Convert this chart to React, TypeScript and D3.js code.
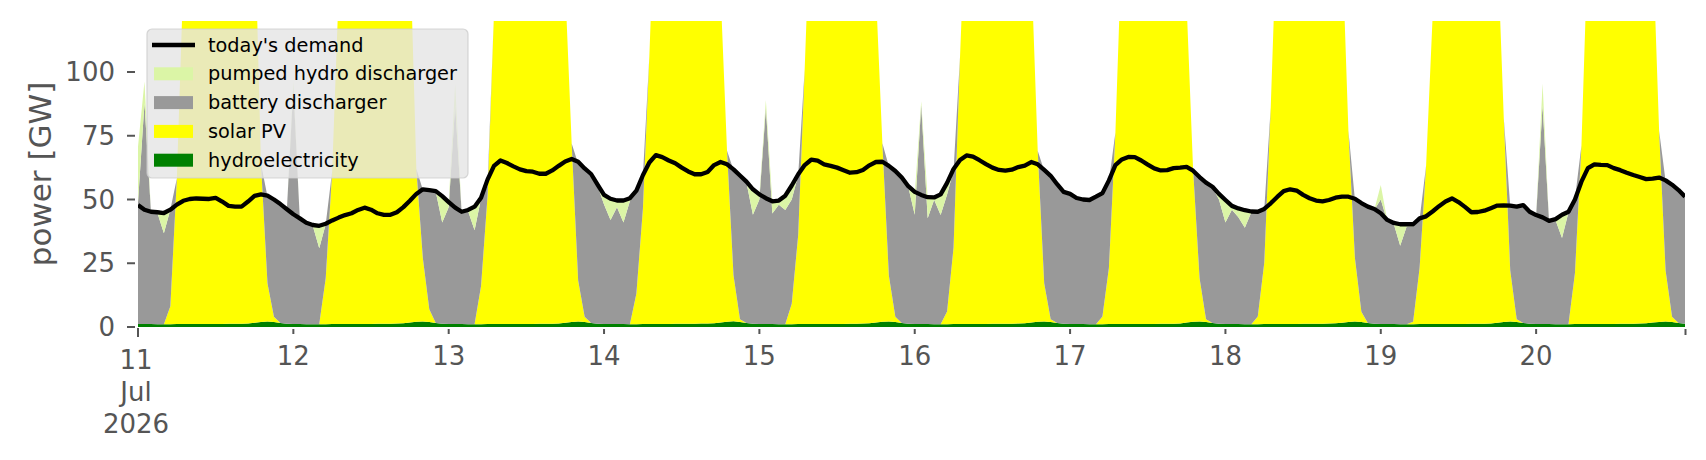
import * as d3 from "d3"

type Row = {
  time: Date
  hydro: number
  solar: number
  battery: number
  pumped: number
  demand: number
}

const WIDTH = 1706
const HEIGHT = 460
const PLOT_LEFT = 138
const PLOT_RIGHT = 1685
const PLOT_TOP = 21
const PLOT_BOTTOM = 327
const FONT = "DejaVu Sans, Verdana, sans-serif"
const TICK_COLOR = "#555555"

const START = new Date(2026, 6, 11, 0)

// hourly values, 11 Jul 00:00 .. 20 Jul 23:00 (GW)
const demand = [
  47.8, 46.0, 45.2, 45.0, 44.7, 46.0, 48.0, 49.5, 50.2, 50.4, 50.3, 50.2, 50.6, 49.2, 47.5, 47.2, 47.2, 49.2, 51.4, 52.0, 51.5, 50.0, 48.2, 46.2,
  44.2, 42.6, 40.9, 40.0, 39.7, 40.5, 41.8, 42.9, 43.9, 44.6, 45.9, 46.8, 46.0, 44.6, 44.0, 44.0, 45.0, 47.0, 49.5, 52.2, 54.0, 53.7, 53.3, 51.3,
  49.0, 46.8, 45.2, 45.9, 47.2, 50.7, 57.8, 63.2, 65.3, 64.3, 63.0, 61.8, 61.1, 60.9, 60.1, 60.1, 61.4, 63.2, 64.9, 65.9, 64.8, 62.2, 60.0, 55.8,
  51.8, 50.3, 49.6, 49.6, 50.5, 53.5, 59.5, 64.5, 67.4, 66.6, 65.3, 64.2, 62.5, 61.0, 59.9, 59.9, 60.8, 63.5, 64.7, 63.8, 61.8, 59.4, 57.0, 54.0,
  52.0, 50.5, 49.3, 49.6, 51.5, 55.5, 59.9, 63.5, 65.6, 65.2, 63.8, 63.2, 62.5, 61.5, 60.5, 60.7, 61.6, 63.4, 64.7, 64.8, 63.2, 61.2, 58.6, 55.2,
  53.0, 51.8, 50.9, 50.8, 52.0, 56.5, 62.0, 65.5, 67.3, 66.8, 65.4, 63.9, 62.5, 61.6, 61.3, 61.7, 62.7, 63.3, 64.7, 63.8, 61.6, 59.3, 56.0, 53.0,
  52.2, 50.6, 50.0, 49.8, 51.1, 52.5, 57.5, 63.5, 65.7, 66.7, 66.6, 65.3, 63.7, 62.2, 61.4, 61.5, 62.3, 62.5, 62.8, 61.3, 58.8, 56.6, 55.0, 52.2,
  49.8, 47.5, 46.5, 45.8, 45.3, 45.2, 46.3, 48.5, 51.0, 53.3, 54.0, 53.5, 51.8, 50.5, 49.6, 49.3, 49.8, 50.7, 51.1, 51.1, 50.3, 48.6, 47.2, 46.3,
  44.6, 42.0, 40.8, 40.3, 40.3, 40.3, 42.6, 43.4, 45.3, 47.4, 49.2, 50.4, 49.0, 47.1, 45.0, 45.1, 45.6, 46.6, 47.6, 47.7, 47.6, 47.2, 47.8, 45.2,
  43.9, 43.0, 41.6, 42.3, 44.0, 45.2, 50.0, 57.0, 62.3, 63.8, 63.6, 63.5, 62.3, 61.5, 60.5, 59.6, 58.8, 58.0, 58.2, 58.6, 57.5, 55.8, 53.7, 51.1,
]

const hydro = [
  1.2, 1.2, 1.2, 1.1, 1.1, 1.1, 1.2, 1.2, 1.2, 1.2, 1.2, 1.2, 1.2, 1.2, 1.3, 1.3, 1.3, 1.4, 1.7, 2.0, 2.2, 2.0, 1.6, 1.3,
  1.2, 1.2, 1.1, 1.1, 1.1, 1.1, 1.2, 1.2, 1.2, 1.2, 1.2, 1.2, 1.2, 1.3, 1.3, 1.3, 1.4, 1.5, 1.8, 2.1, 2.2, 2.0, 1.6, 1.3,
  1.2, 1.2, 1.2, 1.1, 1.1, 1.1, 1.2, 1.2, 1.2, 1.2, 1.2, 1.2, 1.2, 1.2, 1.3, 1.3, 1.3, 1.4, 1.7, 2.0, 2.2, 2.0, 1.6, 1.3,
  1.2, 1.2, 1.2, 1.2, 1.1, 1.1, 1.2, 1.2, 1.2, 1.2, 1.2, 1.3, 1.3, 1.3, 1.3, 1.4, 1.4, 1.5, 1.8, 2.1, 2.3, 2.0, 1.6, 1.3,
  1.2, 1.2, 1.2, 1.1, 1.1, 1.1, 1.2, 1.2, 1.2, 1.2, 1.2, 1.2, 1.2, 1.2, 1.3, 1.3, 1.4, 1.5, 1.8, 2.1, 2.2, 2.0, 1.6, 1.3,
  1.2, 1.2, 1.2, 1.1, 1.1, 1.1, 1.2, 1.2, 1.2, 1.2, 1.2, 1.2, 1.3, 1.3, 1.3, 1.3, 1.4, 1.5, 1.8, 2.1, 2.2, 2.0, 1.6, 1.3,
  1.2, 1.2, 1.2, 1.1, 1.1, 1.1, 1.2, 1.2, 1.2, 1.2, 1.2, 1.2, 1.2, 1.2, 1.3, 1.3, 1.3, 1.4, 1.8, 2.1, 2.2, 2.0, 1.6, 1.3,
  1.2, 1.2, 1.2, 1.1, 1.1, 1.1, 1.2, 1.2, 1.2, 1.2, 1.2, 1.2, 1.3, 1.3, 1.3, 1.3, 1.4, 1.5, 1.7, 2.0, 2.2, 2.0, 1.6, 1.3,
  1.2, 1.2, 1.2, 1.1, 1.1, 1.1, 1.2, 1.2, 1.2, 1.2, 1.2, 1.2, 1.2, 1.2, 1.3, 1.3, 1.3, 1.4, 1.7, 2.0, 2.2, 2.0, 1.6, 1.3,
  1.2, 1.2, 1.2, 1.1, 1.1, 1.1, 1.2, 1.2, 1.2, 1.2, 1.2, 1.2, 1.2, 1.3, 1.3, 1.3, 1.4, 1.5, 1.8, 2.0, 2.2, 2.0, 1.6, 1.3,
]

const solar = [
  0, 0, 0, 0, 0, 7, 57, 135, 180, 215, 235, 245, 245, 235, 220, 200, 185, 170, 160, 62, 15, 2, 0, 0,
  0, 0, 0, 0, 0, 18, 60, 130, 175, 205, 225, 235, 238, 232, 220, 205, 190, 170, 150, 60, 25, 5, 0, 0,
  0, 0, 0, 0, 0, 15, 50, 122, 185, 215, 235, 245, 248, 240, 228, 210, 190, 165, 132, 70, 16, 2, 0, 0,
  0, 0, 0, 0, 0, 12, 45, 105, 175, 210, 230, 240, 242, 235, 222, 205, 185, 160, 130, 67, 18, 1, 0, 0,
  0, 0, 0, 0, 0, 8, 35, 100, 170, 205, 228, 238, 240, 233, 220, 200, 180, 155, 130, 70, 18, 2, 0, 0,
  0, 0, 0, 0, 0, 5, 30, 105, 170, 205, 225, 235, 238, 232, 220, 200, 180, 160, 140, 67, 15, 1, 0, 0,
  0, 0, 0, 0, 0, 3, 22, 75, 150, 195, 220, 230, 232, 228, 215, 195, 170, 145, 125, 60, 17, 1, 0, 0,
  0, 0, 0, 0, 0, 3, 24, 85, 160, 200, 222, 232, 235, 230, 218, 200, 180, 165, 150, 75, 25, 4, 0, 0,
  0, 0, 0, 0, 0, 1, 22, 62, 120, 175, 210, 228, 235, 230, 218, 200, 180, 165, 150, 80, 20, 1, 0, 0,
  0, 0, 0, 0, 0, 0, 20, 70, 150, 200, 225, 238, 240, 235, 222, 205, 185, 165, 150, 75, 20, 2, 0, 0,
]

const battery = [
  47.5, 86.6, 44.0, 43.6, 35.7, 38.0, 0, 0, 0, 0, 0, 0, 0, 0, 0, 0, 0, 0, 0, 0, 34.0, 45.8, 46.4, 44.7,
  92.8, 41.2, 39.5, 38.6, 29.8, 21.2, 0, 0, 0, 0, 0, 0, 0, 0, 0, 0, 0, 0, 0, 0, 26.6, 46.5, 51.4, 39.7,
  45.8, 85.8, 43.8, 44.3, 36.8, 34.3, 4.0, 0, 0, 0, 0, 0, 0, 0, 0, 0, 0, 0, 0, 0, 45.8, 57.8, 58.0, 54.1,
  46.8, 40.8, 45.8, 39.8, 48.3, 40.1, 12.8, 0, 0, 0, 0, 0, 0, 0, 0, 0, 0, 0, 0, 0, 41.3, 56.0, 55.1, 42.7,
  48.8, 84.8, 43.3, 46.8, 44.8, 40.9, 23.4, 0, 0, 0, 0, 0, 0, 0, 0, 0, 0, 0, 0, 0, 42.8, 57.0, 56.8, 53.7,
  42.8, 85.8, 41.4, 48.8, 42.8, 45.9, 30.3, 0, 0, 0, 0, 0, 0, 0, 0, 0, 0, 0, 0, 0, 44.1, 56.0, 54.1, 51.2,
  50.3, 48.8, 48.5, 48.3, 49.6, 48.1, 34.0, 0, 0, 0, 0, 0, 0, 0, 0, 0, 0, 0, 0, 0, 39.3, 53.3, 53.1, 48.7,
  39.8, 44.8, 41.8, 37.8, 43.9, 40.9, 20.8, 0, 0, 0, 0, 0, 0, 0, 0, 0, 0, 0, 0, 0, 22.8, 42.3, 45.4, 44.7,
  48.8, 40.3, 39.3, 30.8, 38.3, 37.4, 19.1, 0, 0, 0, 0, 0, 0, 0, 0, 0, 0, 0, 0, 0, 25.1, 44.0, 45.9, 43.7,
  42.4, 85.8, 40.1, 40.8, 33.8, 43.9, 29.1, 0, 0, 0, 0, 0, 0, 0, 0, 0, 0, 0, 0, 0, 35.1, 51.5, 51.8, 49.5,
]

const pumped = [
  22.0, 8.5, 0, 0, 8.0, 0, 0, 0, 0, 0, 0, 0, 0, 0, 0, 0, 0, 0, 0, 0, 0, 0, 0, 0,
  2.2, 0, 0, 0, 8.5, 0, 0, 0, 0, 0, 0, 0, 0, 0, 0, 0, 0, 0, 0, 0, 0, 0, 0, 10.0,
  1.5, 8.5, 0, 0, 9.0, 0, 0, 0, 0, 0, 0, 0, 0, 0, 0, 0, 0, 0, 0, 0, 0, 0, 0, 0,
  3.5, 8.0, 2.3, 8.3, 0.7, 0, 0, 0, 0, 0, 0, 0, 0, 0, 0, 0, 0, 0, 0, 0, 0, 0, 0, 9.0,
  1.7, 3.0, 4.5, 1.4, 5.2, 5.2, 0, 0, 0, 0, 0, 0, 0, 0, 0, 0, 0, 0, 0, 0, 0, 0, 0, 0,
  8.0, 1.5, 7.9, 0.6, 7.7, 4.0, 0, 0, 0, 0, 0, 0, 0, 0, 0, 0, 0, 0, 0, 0, 0, 0, 0, 0.3,
  0.5, 0.3, 0, 0, 0, 0, 0, 0, 0, 0, 0, 0, 0, 0, 0, 0, 0, 0, 0, 0, 0, 0, 0, 2.0,
  8.3, 1.1, 3.2, 6.5, 0, 0, 0, 0, 0, 0, 0, 0, 0, 0, 0, 0, 0, 0, 0, 0, 0, 0, 0, 0,
  5.7, 0.3, 0, 8.0, 0.5, 0.5, 0, 0, 0, 0, 0, 0, 0, 0, 0, 0, 0, 0, 0, 0, 0, 0, 0, 0,
  0.2, 8.5, 0, 0, 8.8, 0, 0, 0, 0, 0, 0, 0, 0, 0, 0, 0, 0, 0, 0, 0, 0, 0, 0, 0,
]

const dayTicks = [11, 12, 13, 14, 15, 16, 17, 18, 19, 20]
const yTicks = [0, 25, 50, 75, 100]

const stackKeys = ["hydro", "solar", "battery", "pumped"] as const
const stackColors: Record<string, string> = {
  hydro: "#008000",
  solar: "#ffff00",
  battery: "#999999",
  pumped: "#dbf5a6",
}

const legendItems = [
  { label: "today's demand", color: "#000000", line: true },
  { label: "pumped hydro discharger", color: stackColors.pumped, line: false },
  { label: "battery discharger", color: stackColors.battery, line: false },
  { label: "solar PV", color: stackColors.solar, line: false },
  { label: "hydroelectricity", color: stackColors.hydro, line: false },
]

const rows: Row[] = demand.map((value, i) => ({
  time: d3.timeHour.offset(START, i),
  hydro: hydro[i],
  solar: solar[i],
  battery: battery[i],
  pumped: pumped[i],
  demand: value,
}))

export default function App() {
  const x = d3
    .scaleTime()
    .domain([rows[0].time, rows[rows.length - 1].time])
    .range([PLOT_LEFT, PLOT_RIGHT])
  const y = d3.scaleLinear().domain([0, 120]).range([PLOT_BOTTOM, PLOT_TOP])

  const stacked = d3.stack<Row>().keys(stackKeys as unknown as string[])(rows)

  const area = d3
    .area<d3.SeriesPoint<Row>>()
    .x((d) => x(d.data.time))
    .y0((d) => y(d[0]))
    .y1((d) => y(d[1]))

  const demandLine = d3
    .line<Row>()
    .x((d) => x(d.time))
    .y((d) => y(d.demand))

  const tickDates = dayTicks.map((day) => new Date(2026, 6, day))

  return (
    <svg
      width={WIDTH}
      height={HEIGHT}
      style={{ position: "absolute", left: 0, top: 0, background: "white" }}
      fontFamily={FONT}
    >
      <defs>
        <clipPath id="plot-clip">
          <rect
            x={PLOT_LEFT}
            y={PLOT_TOP}
            width={PLOT_RIGHT - PLOT_LEFT}
            height={PLOT_BOTTOM - PLOT_TOP}
          />
        </clipPath>
      </defs>

      <g clipPath="url(#plot-clip)">
        {stacked.map((series) => (
          <path
            key={series.key}
            d={area(series) ?? ""}
            fill={stackColors[series.key]}
          />
        ))}
        <path
          d={demandLine(rows) ?? ""}
          fill="none"
          stroke="#000000"
          strokeWidth={4.3}
          strokeLinejoin="round"
        />
      </g>

      {/* y axis */}
      {yTicks.map((tick) => (
        <g key={tick}>
          <line
            x1={127}
            x2={135}
            y1={y(tick)}
            y2={y(tick)}
            stroke={TICK_COLOR}
            strokeWidth={2}
          />
          <text
            x={115}
            y={y(tick)}
            textAnchor="end"
            dominantBaseline="central"
            fontSize={26}
            fill={TICK_COLOR}
          >
            {tick}
          </text>
        </g>
      ))}
      <text
        transform={`translate(40, ${(PLOT_TOP + PLOT_BOTTOM) / 2}) rotate(-90)`}
        textAnchor="middle"
        dominantBaseline="central"
        fontSize={31}
        fill={TICK_COLOR}
      >
        power [GW]
      </text>

      {/* x axis */}
      {tickDates.map((date, i) => (
        <g key={i}>
          <line
            x1={x(date)}
            x2={x(date)}
            y1={i === 0 ? 328 : 329}
            y2={i === 0 ? 337 : 334}
            stroke={TICK_COLOR}
            strokeWidth={2}
          />
          {i === 0 ? (
            <text x={x(date) - 2} y={369} textAnchor="middle" fontSize={26} fill={TICK_COLOR}>
              <tspan x={x(date) - 2}>{dayTicks[i]}</tspan>
              <tspan x={x(date) - 2} dy={32}>
                Jul
              </tspan>
              <tspan x={x(date) - 2} dy={32}>
                2026
              </tspan>
            </text>
          ) : (
            <text x={x(date)} y={365} textAnchor="middle" fontSize={26} fill={TICK_COLOR}>
              {dayTicks[i]}
            </text>
          )}
        </g>
      ))}
      <line
        x1={PLOT_RIGHT + 0.5}
        x2={PLOT_RIGHT + 0.5}
        y1={329}
        y2={335}
        stroke={TICK_COLOR}
        strokeWidth={2}
      />

      {/* legend */}
      <g>
        <rect
          x={147}
          y={29}
          width={321}
          height={149}
          rx={5}
          fill="#e5e5e5"
          fillOpacity={0.8}
          stroke="#cccccc"
          strokeOpacity={0.8}
          strokeWidth={1.2}
        />
        {legendItems.map((item, i) => {
          const cy = 45 + i * 28.8
          return (
            <g key={item.label}>
              {item.line ? (
                <line
                  x1={152}
                  x2={195}
                  y1={cy}
                  y2={cy}
                  stroke={item.color}
                  strokeWidth={4.3}
                />
              ) : (
                <rect x={154} y={cy - 6.5} width={39} height={13} fill={item.color} />
              )}
              <text
                x={208}
                y={cy}
                dominantBaseline="central"
                fontSize={19.3}
                fill="#000000"
              >
                {item.label}
              </text>
            </g>
          )
        })}
      </g>
    </svg>
  )
}
